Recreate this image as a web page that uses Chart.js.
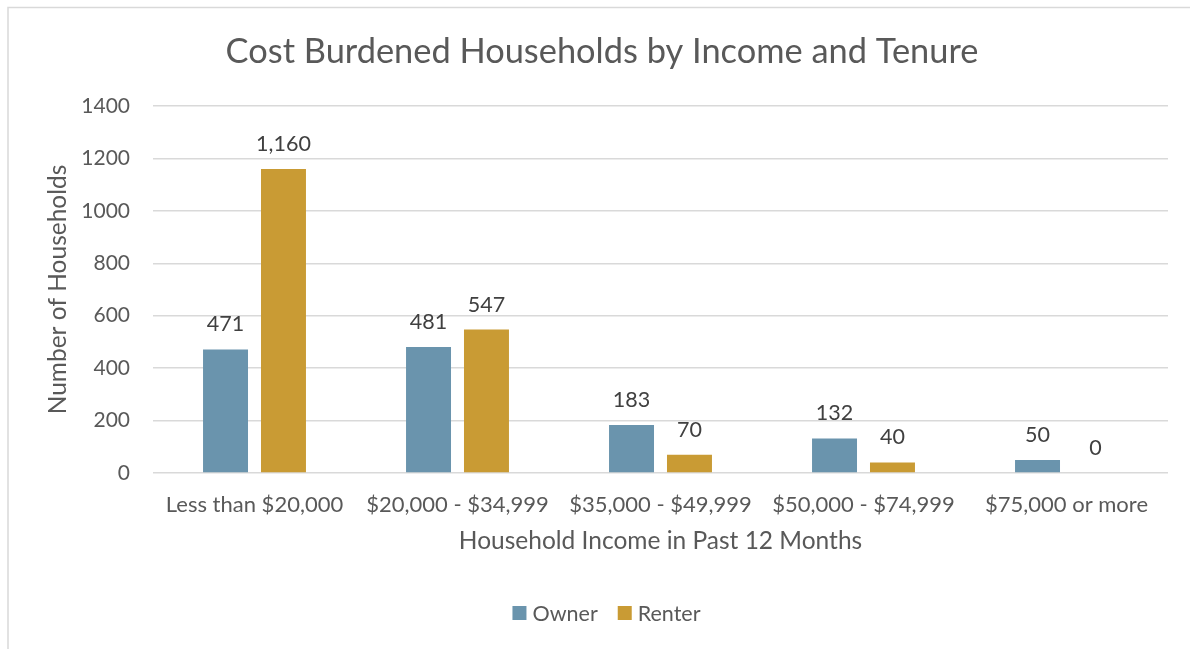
<!DOCTYPE html>
<html>
<head>
<meta charset="utf-8">
<title>Cost Burdened Households</title>
<script src="https://cdn.jsdelivr.net/npm/chart.js@4.4.1/dist/chart.umd.min.js"></script>
<style>
  html, body { margin: 0; padding: 0; background: #fff; }
  #wrap { width: 1190px; height: 649px; }
</style>
</head>
<body>
<div id="wrap"><canvas id="chart" width="1190" height="649"></canvas></div>
<script>
// Income brackets and household counts
const categories = ['Less than $20,000', '$20,000 - $34,999', '$35,000 - $49,999', '$50,000 - $74,999', '$75,000 or more'];
const ownerCounts = [471, 481, 183, 132, 50];
const renterCounts = [1160, 547, 70, 40, 0];
const yMax = 1400;
const yStep = 200;
const chartTitle = 'Cost Burdened Households by Income and Tenure';

const FONT = 'Lato';
const TEXT = '#595959';

// Light frame along the top and left edges, plus the heading
const framePlugin = {
  id: 'frame',
  beforeDraw(chart) {
    const ctx = chart.ctx;
    ctx.save();
    ctx.strokeStyle = '#d9d9d9';
    ctx.lineWidth = 1.5;
    ctx.beginPath();
    ctx.moveTo(8, 660);
    ctx.lineTo(8, 7.5);
    ctx.lineTo(1200, 7.5);
    ctx.stroke();

    ctx.font = '34.4px ' + FONT;
    ctx.fillStyle = TEXT;
    ctx.textAlign = 'center';
    ctx.textBaseline = 'middle';
    ctx.fillText(chartTitle, 602, 52);
    ctx.restore();
  }
};

// Value labels above each bar
const valueLabels = {
  id: 'valueLabels',
  afterDatasetsDraw(chart) {
    const ctx = chart.ctx;
    ctx.save();
    ctx.font = '21.5px ' + FONT;
    ctx.fillStyle = '#404040';
    ctx.textAlign = 'center';
    ctx.textBaseline = 'middle';
    chart.data.datasets.forEach((ds, i) => {
      chart.getDatasetMeta(i).data.forEach((bar, j) => {
        ctx.fillText(ds.data[j].toLocaleString('en-US'), bar.x, bar.y - 25);
      });
    });
    ctx.restore();
  }
};

// Compact legend row under the axis title
const legendRow = {
  id: 'legendRow',
  afterDraw(chart) {
    const ctx = chart.ctx;
    const box = 14, gap = 6, spacing = 20, cy = 613, cx = 606.5;
    ctx.save();
    ctx.font = '21.5px ' + FONT;
    ctx.textBaseline = 'middle';
    ctx.textAlign = 'left';
    const items = chart.data.datasets.map(ds => ({
      label: ds.label, color: ds.backgroundColor, w: box + gap + ctx.measureText(ds.label).width
    }));
    const total = items.reduce((s, it) => s + it.w, 0) + spacing * (items.length - 1);
    let x = cx - total / 2;
    items.forEach(it => {
      ctx.fillStyle = it.color;
      ctx.fillRect(x, cy - box / 2, box, box);
      ctx.fillStyle = TEXT;
      ctx.fillText(it.label, x + box + gap, cy + 1);
      x += it.w + spacing;
    });
    ctx.restore();
  }
};

new Chart(document.getElementById('chart'), {
  type: 'bar',
  data: {
    labels: categories,
    datasets: [
      { label: 'Owner', data: ownerCounts, backgroundColor: '#6a94ad', categoryPercentage: 0.571, barPercentage: 0.776 },
      { label: 'Renter', data: renterCounts, backgroundColor: '#c99b34', categoryPercentage: 0.571, barPercentage: 0.776 }
    ]
  },
  options: {
    responsive: false,
    animation: false,
    layout: { padding: { top: 106, left: 20, right: 22, bottom: 66 } },
    plugins: {
      title: { display: false },
      legend: { display: false },
      tooltip: { enabled: false }
    },
    scales: {
      x: {
        grid: { display: false },
        border: { display: false },
        ticks: { color: TEXT, font: { family: FONT, size: 22 }, padding: 11, maxRotation: 0 },
        title: {
          display: true,
          text: 'Household Income in Past 12 Months',
          color: TEXT,
          font: { family: FONT, size: 24.5 },
          padding: { top: 4, bottom: 27 }
        },
        afterFit(scale) { scale.height = 110; }
      },
      y: {
        min: 0,
        max: yMax,
        grid: { color: '#d9d9d9', lineWidth: 1.5, drawTicks: false },
        border: { display: false },
        ticks: {
          stepSize: yStep,
          color: TEXT,
          font: { family: FONT, size: 21 },
          padding: 23,
          callback: (v) => String(v)
        },
        title: {
          display: true,
          text: 'Number of Households',
          color: TEXT,
          font: { family: FONT, size: 24.5 },
          padding: { top: 23.3, bottom: 0 }
        },
        afterFit(scale) { scale.width = 133; }
      }
    }
  },
  plugins: [framePlugin, valueLabels, legendRow]
});
</script>
</body>
</html>
